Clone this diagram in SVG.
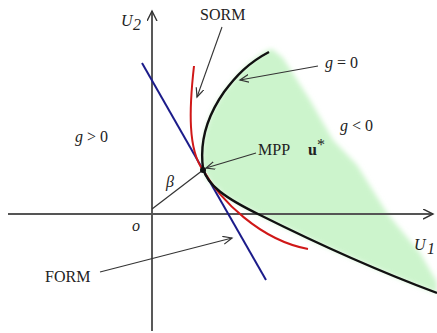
<svg xmlns="http://www.w3.org/2000/svg" width="437" height="333" viewBox="0 0 437 333">
<style>
text{font-family:"Liberation Serif","Times New Roman",serif;font-size:16px;fill:#222}
.it{font-family:"Liberation Serif","DejaVu Serif",serif;font-style:italic}
.ptr{fill:none;stroke:#333;stroke-width:1.1}
</style>
<defs>
<marker id="ah" markerUnits="userSpaceOnUse" markerWidth="12" markerHeight="10" refX="9" refY="4" orient="auto">
<path d="M0,0 L9,4 L0,8" fill="none" stroke="#333" stroke-width="1.2"/>
</marker>
<marker id="axh" markerUnits="userSpaceOnUse" markerWidth="12" markerHeight="12" refX="10" refY="5" orient="auto">
<path d="M0,0 L10,5 L0,10" fill="none" stroke="#333" stroke-width="1.4"/>
</marker>
<filter id="soft" x="-10%" y="-10%" width="120%" height="120%"><feGaussianBlur stdDeviation="2.5"/></filter>
</defs>
<rect width="437" height="333" fill="#fff"/>
<g id="failure-region">
<path d="M266,51 C248,63 236,76 224,92 C210,112 199,138 203,168 C207,185 225,198 260,215 C300,235 370,268 437,293 L437,282 L420,253 L387,213 L357,165 L333,140 L310,100 L283,58 L272,49 Z" fill="#ccf4cc" filter="url(#soft)"/>
</g>
<g id="axes">
<path d="M152,331 L152,11" fill="none" stroke="#222" stroke-width="1.5" marker-end="url(#axh)"/>
<path d="M8,214 L433,214" fill="none" stroke="#555" stroke-width="2.2" marker-end="url(#axh)"/>
</g>
<g id="connectors">
<path id="beta-line" d="M152,209 L203,170" fill="none" stroke="#333" stroke-width="1.2"/>
<path class="ptr" d="M222,27 L197,97" marker-end="url(#ah)"/>
<path class="ptr" d="M318,66 L240,80" marker-end="url(#ah)"/>
<path class="ptr" d="M256,153 L206,168" marker-end="url(#ah)"/>
<path class="ptr" d="M100,272 L232,238" marker-end="url(#ah)"/>
</g>
<g id="form-line">
<path d="M142,63 L266,280" fill="none" stroke="#1c1c8a" stroke-width="2"/>
</g>
<g id="sorm-curve">
<path d="M194,66 C189,110 188,150 203,170 C220,200 260,240 308,249" fill="none" stroke="#d01818" stroke-width="2"/>
</g>
<g id="limit-state">
<path d="M269,52 C248,63 236,76 224,92 C210,112 199,138 203,168 C207,185 225,198 260,215 C300,235 370,268 437,293" fill="none" stroke="#111" stroke-width="2.4"/>
</g>
<g id="mpp">
<circle cx="203" cy="170" r="3" fill="#111"/>
</g>
<g id="labels">
<text class="it" x="121" y="26">U</text><text class="it" x="133" y="30" font-size="11">2</text>
<text class="it" x="414" y="250">U</text><text class="it" x="427" y="254" font-size="11">1</text>
<text x="200" y="20">SORM</text>
<text x="45" y="282">FORM</text>
<text x="258" y="155">MPP</text>
<text x="308" y="155" font-weight="bold">u</text><text x="317" y="150" font-size="10">*</text>
<text x="325" y="68"><tspan class="it">g</tspan> = 0</text>
<text x="340" y="131"><tspan class="it">g</tspan> &lt; 0</text>
<text x="75" y="142"><tspan class="it">g</tspan> &gt; 0</text>
<text class="it" x="166" y="187">β</text>
<text class="it" x="132" y="231">o</text>
</g>
</svg>
